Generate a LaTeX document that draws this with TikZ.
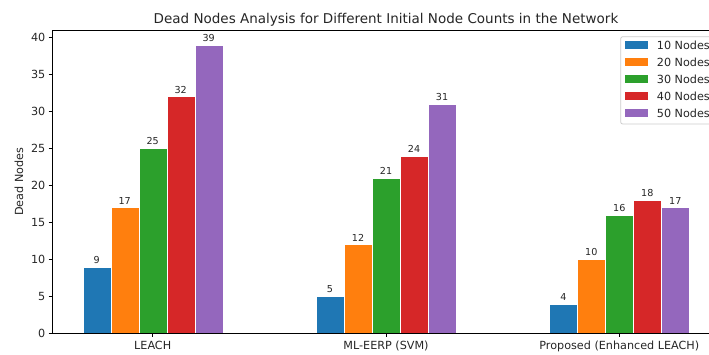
\documentclass[tikz,border=0pt]{standalone}
\usepackage{fontspec}
\setmainfont{DejaVu Sans}
\definecolor{cA}{HTML}{1F77B4}
\definecolor{cB}{HTML}{FF7F0E}
\definecolor{cC}{HTML}{2CA02C}
\definecolor{cD}{HTML}{D62728}
\definecolor{cE}{HTML}{9467BD}
\definecolor{txt}{HTML}{262626}
\tikzset{
  bar/.style={draw=white, line width=0.3pt},
  barlabel/.style={font=\fontsize{9.6}{11}\selectfont, text=txt, anchor=base, inner sep=0pt},
  ticklabel/.style={font=\fontsize{11.2}{13}\selectfont, text=txt, inner sep=0pt},
  spine/.style={line width=0.8pt, black},
  tickmark/.style={line width=0.8pt, black},
  legtext/.style={font=\fontsize{11.2}{13}\selectfont, text=txt, anchor=west, inner sep=0pt}
}
\begin{document}
\begin{tikzpicture}[x=1pt,y=-1pt]
\clip (0,0) rectangle (709,354);
\fill[white] (0,0) rectangle (709,354);
% bars
\foreach \g/\cx/\va/\vb/\vc/\vd/\ve in {0/152.7/9/17/25/32/39, 1/386/5/12/21/24/31, 2/619.3/4/10/16/18/17}{
  \foreach \i/\v/\c in {0/\va/cA, 1/\vb/cB, 2/\vc/cC, 3/\vd/cD, 4/\ve/cE}{
    \pgfmathsetmacro{\xl}{\cx+(\i-2.5)*28}
    \pgfmathsetmacro{\xr}{\xl+28}
    \pgfmathsetmacro{\yt}{333.3-7.4*\v}
    \draw[bar, fill=\c] (\xl,333.3) rectangle (\xr,\yt);
    \pgfmathsetmacro{\xm}{\xl+14}
    \pgfmathsetmacro{\yl}{\yt-3.5}
    \node[barlabel] (bl-\g-\i) at (\xm,\yl) {\v};
  }
}
% spines
\draw[spine] (52,333.3) -- (52,30) -- (720,30);
\draw[spine] (52,333.3) -- (720,333.3);
% y ticks
\foreach \t in {0,5,...,40}{
  \pgfmathsetmacro{\yy}{333.3-7.4*\t}
  \draw[tickmark] (48.5,\yy) -- (52,\yy);
  \node[ticklabel, anchor=east] (yt-\t) at (45.5,\yy) {\t};
}
% x ticks
\foreach \cx/\lab/\n in {152.7/LEACH/a, 386/ML-EERP (SVM)/b, 619.3/Proposed (Enhanced LEACH)/c}{
  \draw[tickmark] (\cx,333.3) -- (\cx,336.8);
  \node[ticklabel, anchor=base] (xt-\n) at (\cx,349.8) {\lab};
}
% axis label
\node[ticklabel, rotate=90] (ylab) at (19,181.7) {Dead Nodes};
% title
\node[font=\fontsize{13.5}{15}\selectfont, text=txt, anchor=base, inner sep=0pt] (title) at (386,23.5) {Dead Nodes Analysis for Different Initial Node Counts in the Network};
% legend
\draw[draw=black!20, fill=white, fill opacity=0.8, rounded corners=2pt, line width=0.8pt] (620.7,36.7) rectangle (730,124);
\foreach \k/\c/\lab in {0/cA/10, 1/cB/20, 2/cC/30, 3/cD/40, 4/cE/50}{
  \pgfmathsetmacro{\yy}{45+17.07*\k}
  \fill[\c] (625,\yy-3.8) rectangle (647.7,\yy+3.8);
  \node[legtext] (lg-\k) at (656.7,\yy) {\lab{} Nodes};
}
\end{tikzpicture}
\end{document}
